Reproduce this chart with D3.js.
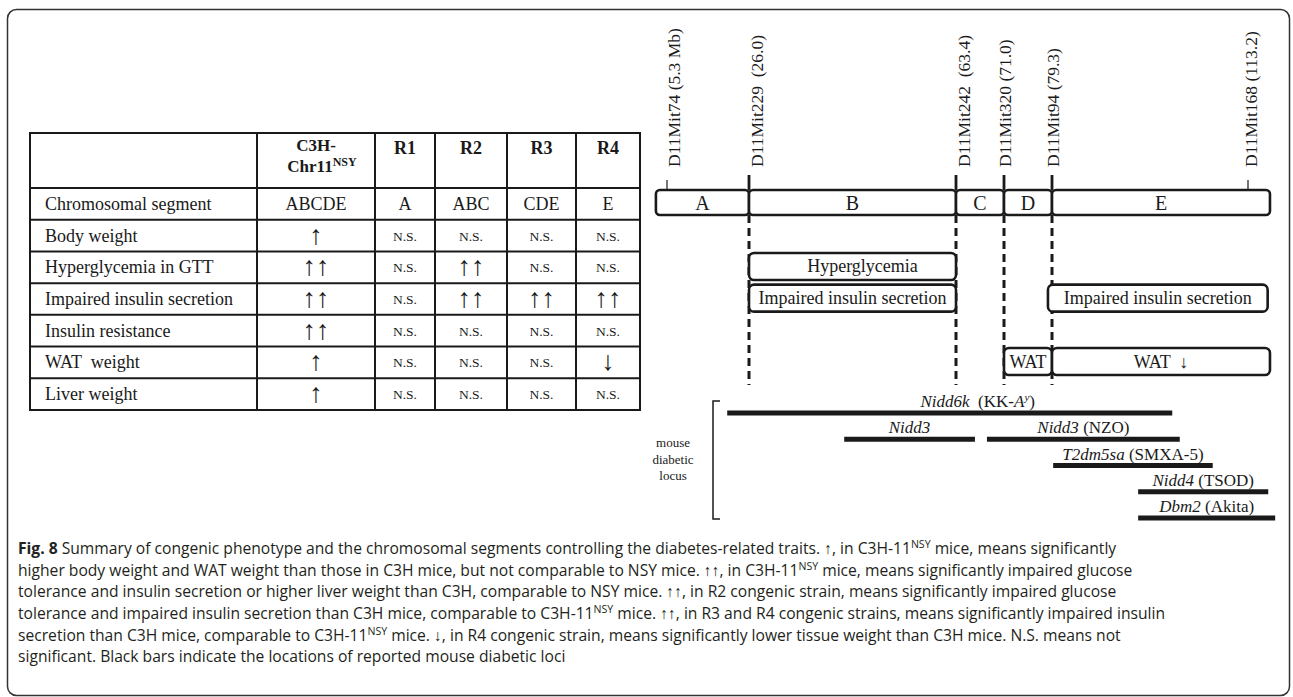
<!DOCTYPE html>
<html>
<head>
<meta charset="utf-8">
<script src="https://cdn.jsdelivr.net/npm/d3@7"></script>
<style>
body { margin: 0; background: #fff; }
svg text { font-family: "Liberation Serif", "Times New Roman", serif; fill: #1a1a1a; }
.cap text { font-family: "Open Sans", sans-serif; fill: #231f20; }
</style>
</head>
<body>
<script>
//************************************************************
// Data
//************************************************************
var traits = ["Chromosomal segment", "Body weight", "Hyperglycemia in GTT", "Impaired insulin secretion",
  "Insulin resistance", "WAT  weight", "Liver weight"];
var strains = ["C3H-Chr11", "R1", "R2", "R3", "R4"];
var c3hValues = ["ABCDE", "↑", "↑↑", "↑↑", "↑↑", "↑", "↑"];
var r1Values = ["A", "N.S.", "N.S.", "N.S.", "N.S.", "N.S.", "N.S."];
var r2Values = ["ABC", "N.S.", "↑↑", "↑↑", "N.S.", "N.S.", "N.S."];
var r3Values = ["CDE", "N.S.", "N.S.", "↑↑", "N.S.", "N.S.", "N.S."];
var r4Values = ["E", "N.S.", "N.S.", "↑↑", "N.S.", "↓", "N.S."];

var markers = ["D11Mit74", "D11Mit229", "D11Mit242", "D11Mit320", "D11Mit94", "D11Mit168"];
var markerMb = [5.3, 26.0, 63.4, 71.0, 79.3, 113.2];
var markerTags = ["(5.3 Mb)", " (26.0)", " (63.4)", "(71.0)", "(79.3)", "(113.2)"];

var segmentNames = ["A", "B", "C", "D", "E"];
var segmentBounds = [2.5, 26.0, 63.4, 71.0, 79.3, 117.0];

var phenoLabels = ["Hyperglycemia", "Impaired insulin secretion", "Impaired insulin secretion", "WAT", "WAT ↓"];
var phenoStart = [26.0, 26.0, 78.6, 71.0, 79.3];
var phenoEnd = [63.4, 63.4, 116.6, 79.3, 117.0];
var phenoTrait = [2, 3, 3, 5, 5];

var lociNames = ["Nidd6k", "Nidd3", "Nidd3", "T2dm5sa", "Nidd4", "Dbm2"];
var lociStrains = ["KK-A", "", "NZO", "SMXA-5", "TSOD", "Akita"];
var lociStart = [20.5, 43.2, 68.3, 79.5, 94.2, 94.2];
var lociEnd = [100.1, 66.4, 101.4, 107.1, 116.7, 117.9];
var lociRow = [0, 1, 1, 2, 3, 4];

var captionLines = [
  "**Fig. 8** Summary of congenic phenotype and the chromosomal segments controlling the diabetes-related traits. ↑, in C3H-11^NSY mice, means significantly",
  "higher body weight and WAT weight than those in C3H mice, but not comparable to NSY mice. ↑↑, in C3H-11^NSY mice, means significantly impaired glucose",
  "tolerance and insulin secretion or higher liver weight than C3H, comparable to NSY mice. ↑↑, in R2 congenic strain, means significantly impaired glucose",
  "tolerance and impaired insulin secretion than C3H mice, comparable to C3H-11^NSY mice. ↑↑, in R3 and R4 congenic strains, means significantly impaired insulin",
  "secretion than C3H mice, comparable to C3H-11^NSY mice. ↓, in R4 congenic strain, means significantly lower tissue weight than C3H mice. N.S. means not",
  "significant. Black bars indicate the locations of reported mouse diabetic loci"
];

var tableValues = [c3hValues, r1Values, r2Values, r3Values, r4Values];

//************************************************************
// Layout
//************************************************************
var W = 1293, H = 697;
var colEdges = [30, 257, 375, 435, 507, 576, 640];
var headTop = 133, headBottom = 188, tableBottom = 410;
var ink = "#1a1a1a";

var svg = d3.select("body").append("svg")
  .attr("width", W)
  .attr("height", H);

// outer frame
svg.append("rect")
  .attr("x", 7.5).attr("y", 9.5)
  .attr("width", 1282).attr("height", 686)
  .attr("rx", 9)
  .attr("fill", "none")
  .attr("stroke", "#333")
  .attr("stroke-width", 1.5);

//************************************************************
// Table
//************************************************************
var rowY = d3.scaleBand()
  .domain(d3.range(traits.length))
  .range([headBottom, tableBottom]);

var colX = function (i) { return (colEdges[i + 1] + colEdges[i + 2]) / 2; };

var table = svg.append("g").attr("class", "table");

table.append("rect")
  .attr("x", colEdges[0]).attr("y", headTop)
  .attr("width", colEdges[colEdges.length - 1] - colEdges[0])
  .attr("height", tableBottom - headTop)
  .attr("fill", "none").attr("stroke", ink).attr("stroke-width", 2);

table.selectAll(".hline")
  .data(d3.range(traits.length))
  .enter().append("line")
  .attr("x1", colEdges[0]).attr("x2", colEdges[colEdges.length - 1])
  .attr("y1", function (d) { return rowY(d); })
  .attr("y2", function (d) { return rowY(d); })
  .attr("stroke", ink).attr("stroke-width", 2);

table.selectAll(".vline")
  .data(colEdges.slice(1, -1))
  .enter().append("line")
  .attr("x1", function (d) { return d; }).attr("x2", function (d) { return d; })
  .attr("y1", headTop).attr("y2", tableBottom)
  .attr("stroke", ink).attr("stroke-width", 2);

// header
table.selectAll(".head")
  .data(strains)
  .enter().append("text")
  .attr("x", function (d, i) { return colX(i); })
  .attr("y", function (d, i) { return i === 0 ? 151 : 154; })
  .attr("text-anchor", "middle")
  .attr("font-weight", "bold")
  .attr("font-size", function (d, i) { return i === 0 ? 17 : 18; })
  .text(function (d, i) { return i === 0 ? "C3H-" : d; });

var chr = table.append("text")
  .attr("x", colX(0) + 6).attr("y", 172)
  .attr("text-anchor", "middle")
  .attr("font-weight", "bold")
  .attr("font-size", 17);
chr.append("tspan").text("Chr11");
chr.append("tspan").attr("dy", -6).attr("font-size", 12).text("NSY");

// row labels
table.selectAll(".trait")
  .data(traits)
  .enter().append("text")
  .attr("x", 45)
  .attr("y", function (d, i) { return rowY(i) + rowY.bandwidth() / 2 + 6; })
  .attr("font-size", 18)
  .attr("xml:space", "preserve")
  .text(function (d) { return d; });

// cells
var isArrow = function (d) { return /[↑↓]/.test(d); };
tableValues.forEach(function (col, ci) {
  table.selectAll(".cell" + ci)
    .data(col)
    .enter().append("text")
    .attr("x", colX(ci))
    .attr("y", function (d, i) {
      return rowY(i) + rowY.bandwidth() / 2 + (d === "N.S." ? 5 : isArrow(d) ? 8 : 6);
    })
    .attr("text-anchor", "middle")
    .attr("font-size", function (d) { return d === "N.S." ? 13.5 : isArrow(d) ? 27 : 18; })
    .text(function (d) { return d; });
});

//************************************************************
// Chromosome map
//************************************************************
var markerPx = [667, 749, 956, 1004, 1052, 1248];
var x = d3.scaleLinear().domain(markerMb).range(markerPx);
var markerShift = [13, 14, 14, 7, 7, 9];
var barTop = 190, barBottom = 215;

var map = svg.append("g").attr("class", "map");

// dashed guide lines at segment boundaries
map.selectAll(".guide")
  .data(segmentBounds.slice(1, -1))
  .enter().append("line")
  .attr("x1", function (d) { return x(d); })
  .attr("x2", function (d) { return x(d); })
  .attr("y1", barBottom).attr("y2", 385)
  .attr("stroke", ink).attr("stroke-width", 3)
  .attr("stroke-dasharray", "8,5");

// marker ticks
map.selectAll(".tick")
  .data(markerMb)
  .enter().append("line")
  .attr("x1", function (d) { return x(d); })
  .attr("x2", function (d) { return x(d); })
  .attr("y1", function (d) { return segmentBounds.indexOf(d) >= 0 ? 175 : 180; })
  .attr("y2", barTop)
  .attr("stroke", ink)
  .attr("stroke-width", function (d) { return segmentBounds.indexOf(d) >= 0 ? 2.8 : 1.2; });

// marker labels
map.selectAll(".mlabel")
  .data(markers)
  .enter().append("text")
  .attr("transform", function (d, i) {
    return "translate(" + (x(markerMb[i]) + markerShift[i]) + ",167) rotate(-90)";
  })
  .attr("font-size", 17.5)
  .attr("xml:space", "preserve")
  .text(function (d, i) { return d + " " + markerTags[i]; });

// segments
var segs = map.selectAll(".seg")
  .data(segmentNames)
  .enter().append("g");
segs.append("rect")
  .attr("x", function (d, i) { return x(segmentBounds[i]); })
  .attr("y", barTop)
  .attr("width", function (d, i) { return x(segmentBounds[i + 1]) - x(segmentBounds[i]); })
  .attr("height", barBottom - barTop)
  .attr("rx", 4)
  .attr("fill", "#fff").attr("stroke", ink).attr("stroke-width", 2.6);
segs.append("text")
  .attr("x", function (d, i) { return (x(segmentBounds[i]) + x(segmentBounds[i + 1])) / 2; })
  .attr("y", 210)
  .attr("text-anchor", "middle")
  .attr("font-size", 20)
  .text(function (d) { return d; });

// phenotype boxes
var pheno = map.selectAll(".pheno")
  .data(phenoLabels)
  .enter().append("g");
pheno.append("rect")
  .attr("x", function (d, i) { return x(phenoStart[i]); })
  .attr("y", function (d, i) { return rowY(phenoTrait[i]) + 1.5; })
  .attr("width", function (d, i) { return x(phenoEnd[i]) - x(phenoStart[i]); })
  .attr("height", 27)
  .attr("rx", 5)
  .attr("fill", "#fff").attr("stroke", ink).attr("stroke-width", 2.6);
pheno.append("text")
  .attr("x", function (d, i) { return (x(phenoStart[i]) + x(phenoEnd[i])) / 2 + (i === 0 ? 10 : 0); })
  .attr("y", function (d, i) { return rowY(phenoTrait[i]) + 21; })
  .attr("text-anchor", "middle")
  .attr("font-size", 18)
  .attr("xml:space", "preserve")
  .text(function (d) { return d.replace(" ↓", "  ↓"); });

//************************************************************
// Diabetic loci
//************************************************************
var lociY = d3.scaleLinear().domain([0, 4]).range([413, 518]);

var loci = svg.append("g").attr("class", "loci");
loci.selectAll(".locus")
  .data(lociNames)
  .enter().append("line")
  .attr("x1", function (d, i) { return x(lociStart[i]); })
  .attr("x2", function (d, i) { return x(lociEnd[i]); })
  .attr("y1", function (d, i) { return lociY(lociRow[i]); })
  .attr("y2", function (d, i) { return lociY(lociRow[i]); })
  .attr("stroke", ink).attr("stroke-width", 5);

var ll = loci.selectAll(".llabel")
  .data(lociNames)
  .enter().append("text")
  .attr("x", function (d, i) { return (x(lociStart[i]) + x(lociEnd[i])) / 2 + (i === 0 ? 28 : 0); })
  .attr("y", function (d, i) { return lociY(lociRow[i]) - 6; })
  .attr("text-anchor", "middle")
  .attr("font-size", 17)
  .attr("xml:space", "preserve");
ll.append("tspan").attr("font-style", "italic").text(function (d) { return d; });
ll.each(function (d, i) {
  var t = d3.select(this);
  if (!lociStrains[i]) return;
  if (i === 0) {
    t.append("tspan").text("  (KK-");
    t.append("tspan").attr("font-style", "italic").text("A");
    t.append("tspan").attr("font-style", "italic").attr("font-size", 11).attr("dy", -6).text("y");
    t.append("tspan").attr("dy", 6).text(")");
  } else {
    t.append("tspan").text(" (" + lociStrains[i] + ")");
  }
});

// bracket
loci.append("path")
  .attr("d", "M720,401 H713 V519 H720")
  .attr("fill", "none").attr("stroke", ink).attr("stroke-width", 1.5);
loci.selectAll(".blabel")
  .data(["mouse", "diabetic", "locus"])
  .enter().append("text")
  .attr("x", 673)
  .attr("y", function (d, i) { return 447 + i * 16.5; })
  .attr("text-anchor", "middle")
  .attr("font-size", 13)
  .text(function (d) { return d; });

//************************************************************
// Caption
//************************************************************
var cap = svg.append("g").attr("class", "cap");
var capLines = cap.selectAll(".cline")
  .data(captionLines)
  .enter().append("text")
  .attr("x", 0)
  .attr("y", function (d, i) { return 554 + i * 21.7; })
  .attr("font-size", 15.5)
  .attr("xml:space", "preserve");

capLines.each(function (d) {
  var t = d3.select(this);
  var parts = d.split(/(\*\*[^*]+\*\*|\^NSY)/).filter(function (p) { return p.length; });
  var raised = false;
  parts.forEach(function (p) {
    if (p.indexOf("**") === 0) {
      t.append("tspan").attr("font-weight", "bold").attr("fill", "#222").text(p.replace(/\*\*/g, ""));
    } else if (p === "^NSY") {
      t.append("tspan").attr("font-size", 10.5).attr("dy", -6).text("NSY");
      raised = true;
    } else {
      var s = t.append("tspan").text(p);
      if (raised) { s.attr("dy", 6); raised = false; }
    }
  });
});

// squeeze the caption to the narrow face of the original (line 2 runs to x ~ 1133)
var refW = capLines.nodes()[1].getComputedTextLength();
var k = 1115 / refW;
cap.attr("transform", "translate(18,0) scale(" + k + ",1)");
</script>
</body>
</html>
